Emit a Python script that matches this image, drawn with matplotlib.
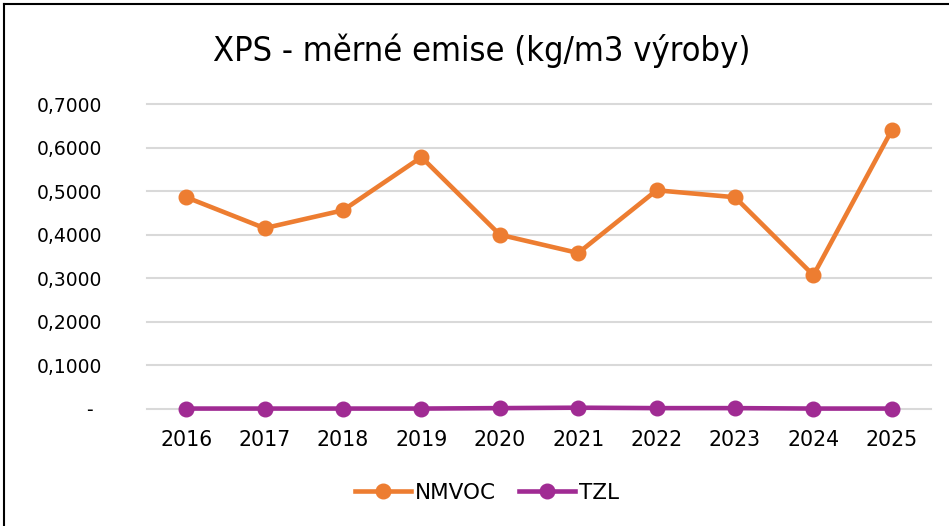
import numpy as np
import matplotlib
matplotlib.use('Agg')
import matplotlib.pyplot as plt
from matplotlib.lines import Line2D

years = ['2016', '2017', '2018', '2019', '2020', '2021', '2022', '2023', '2024', '2025']
nmvoc = [0.486, 0.415, 0.456, 0.578, 0.400, 0.358, 0.502, 0.486, 0.307, 0.640]
tzl = [0.001, 0.001, 0.001, 0.001, 0.002, 0.003, 0.002, 0.002, 0.001, 0.001]
y_ticks = [0.0, 0.1, 0.2, 0.3, 0.4, 0.5, 0.6, 0.7]
y_labels = ['-\u2002', '0,1000', '0,2000', '0,3000', '0,4000', '0,5000', '0,6000', '0,7000']

fig = plt.figure(figsize=(9.49, 5.26), dpi=100)
ax = fig.add_axes([147 / 949, 1 - 409 / 526, 784 / 949, 305 / 526])

x = np.arange(len(years))
ax.plot(x, nmvoc, color='#ED7D31', lw=3.3, marker='o', ms=10.5, label='NMVOC',
        clip_on=False, zorder=3)
ax.plot(x, tzl, color='#A02B93', lw=3.3, marker='o', ms=10.5, label='TZL',
        clip_on=False, zorder=4)

ax.set_xlim(-0.5, len(years) - 0.5)
ax.set_ylim(0, 0.7)
ax.set_yticks(y_ticks)
ax.set_yticklabels(y_labels, family='DejaVu Sans', fontsize=13.5)
ax.set_xticks(x)
ax.set_xticklabels(years, family='DejaVu Sans', fontsize=14.8)
ax.tick_params(axis='y', length=0, pad=32)
ax.tick_params(axis='x', length=0, pad=15)
for s in ax.spines.values():
    s.set_visible(False)
ax.grid(axis='y', color='#D9D9D9', lw=1.5)
ax.set_axisbelow(True)
for gl in ax.get_ygridlines():
    gl.set_clip_on(False)

fig.text(482 / 949, 1 - 61 / 526, 'XPS - měrné emise (kg/m3 výroby)', ha='center', va='baseline',
         family='DejaVu Sans', stretch='condensed', fontsize=24.7)

leg = fig.legend(loc='center', bbox_to_anchor=(487 / 949, 1 - 493 / 526), ncol=2, frameon=False,
                 prop={'family': 'DejaVu Sans', 'size': 15.5}, handlelength=2.6, handletextpad=0.2,
                 columnspacing=1.05)

fig.add_artist(Line2D([4 / 949, 4 / 949], [0, 1 - 4 / 526], color='black', lw=1.5))
fig.add_artist(Line2D([4 / 949, 1], [1 - 4 / 526, 1 - 4 / 526], color='black', lw=1.5))

fig.savefig('out.png', dpi=100, facecolor='white')
